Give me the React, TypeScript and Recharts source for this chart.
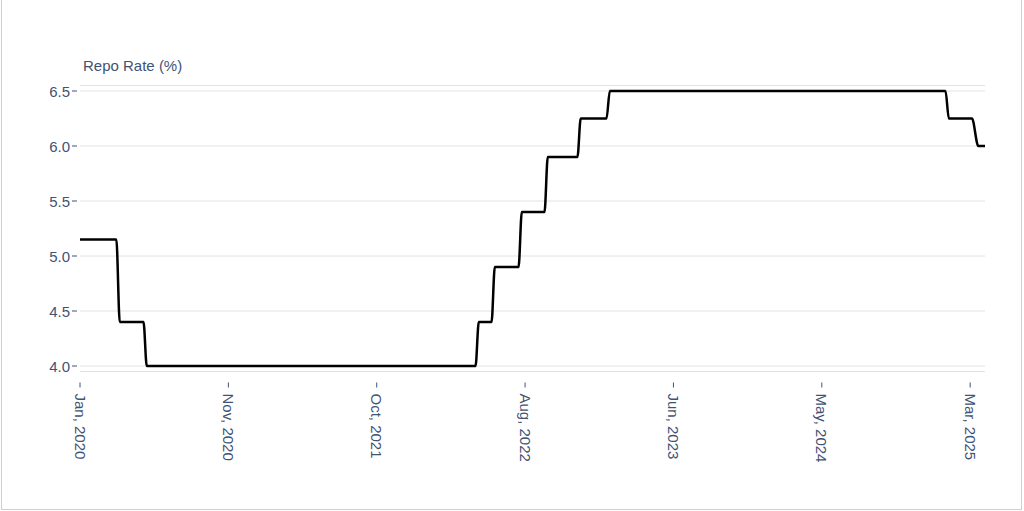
import { CartesianGrid, Line, LineChart, XAxis, YAxis } from "recharts";

// position on the monthly axis (0 = Jan 2020) and the repo rate there
const periods = [
  0, 2.45, 2.68, 4.28, 4.5, 26.66, 26.88, 27.74, 27.96, 29.56, 29.78, 31.31, 31.53,
  33.53, 33.75, 35.49, 35.71, 58.34, 58.56, 60.12, 60.55, 61,
];
const repoRates = [
  5.15, 5.15, 4.4, 4.4, 4.0, 4.0, 4.4, 4.4, 4.9, 4.9, 5.4, 5.4, 5.9, 5.9, 6.25, 6.25, 6.5,
  6.5, 6.25, 6.25, 6.0, 6.0,
];

const xTickPositions = [0, 10, 20, 30, 40, 50, 60];
const xTickLabels = [
  "Jan, 2020",
  "Nov, 2020",
  "Oct, 2021",
  "Aug, 2022",
  "Jun, 2023",
  "May, 2024",
  "Mar, 2025",
];
const yTicks = [4.0, 4.5, 5.0, 5.5, 6.0, 6.5];

const chartData = periods.map((p, i) => ({ period: p, rate: repoRates[i] }));

const textColor = "#3f5375";
const fontFamily = "'Liberation Sans', Arial, sans-serif";

const XTick = ({ x, y, payload }: any) => {
  const idx = xTickPositions.indexOf(payload.value);
  return (
    <g transform={`translate(${x},${y})`}>
      <line x1={0} x2={0} y1={11} y2={16} stroke={textColor} strokeWidth={1} />
      <text
        transform="translate(0,22) rotate(90)"
        textAnchor="start"
        dominantBaseline="central"
        fill={textColor}
        fontSize={15}
        fontFamily={fontFamily}
      >
        {idx >= 0 ? xTickLabels[idx] : ""}
      </text>
    </g>
  );
};

const YTick = ({ x, y, payload }: any) => (
  <g transform={`translate(${x},${y})`}>
    <line x1={-8} x2={-3} y1={0} y2={0} stroke={textColor} strokeWidth={1} />
    <text
      x={-10}
      y={0}
      textAnchor="end"
      dominantBaseline="central"
      fill={textColor}
      fontSize={15}
      fontFamily={fontFamily}
    >
      {Number(payload.value).toFixed(1)}
    </text>
  </g>
);

const App = () => {
  return (
    <div
      style={{
        position: "absolute",
        left: 0,
        top: 0,
        width: 1024,
        height: 511,
        background: "#fff",
        overflow: "hidden",
      }}
    >
      <div
        style={{
          position: "absolute",
          left: 1,
          top: -1,
          width: 1019,
          height: 509,
          border: "1px solid #cfcfcf",
        }}
      />
      <div
        style={{
          position: "absolute",
          left: 83,
          top: 57,
          color: textColor,
          fontSize: 15,
          fontFamily,
          lineHeight: "18px",
        }}
      >
        Repo Rate (%)
      </div>
      <div style={{ position: "absolute", left: 0, top: 0 }}>
        <LineChart
          width={1024}
          height={511}
          data={chartData}
          margin={{ top: 85.5, right: 39, bottom: 9.5, left: 0 }}
        >
          <CartesianGrid vertical={false} stroke="#e2e2e2" strokeWidth={1} />
          <XAxis
            dataKey="period"
            type="number"
            domain={[0, 61]}
            ticks={xTickPositions}
            height={130}
            axisLine={false}
            tickLine={false}
            tickSize={0}
            tickMargin={0}
            tick={<XTick />}
            interval={0}
          />
          <YAxis
            type="number"
            domain={[3.95, 6.55]}
            ticks={yTicks}
            width={80}
            axisLine={false}
            tickLine={false}
            tickSize={0}
            tickMargin={0}
            tick={<YTick />}
            interval={0}
          />
          <Line
            type="monotone"
            dataKey="rate"
            stroke="#000"
            strokeWidth={2.5}
            dot={false}
            isAnimationActive={false}
          />
        </LineChart>
      </div>
    </div>
  );
};

export default App;
